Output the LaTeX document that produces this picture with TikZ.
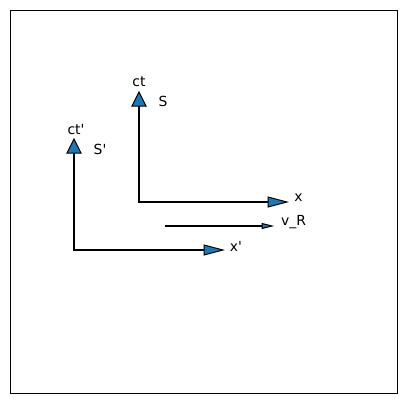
\documentclass[tikz,border=0pt]{standalone}
\usepackage{fontspec}
\setmainfont{DejaVu Sans}[Ligatures=TeXOff]
\usetikzlibrary{calc}
\definecolor{headblue}{RGB}{31,119,180}

\begin{document}
\begin{tikzpicture}[
    x=1pt, y=-1pt,
    axis/.style={line width=1.5pt},
    head/.style={fill=headblue, draw=black, line width=1pt, line join=miter},
    lbl/.style={font=\fontsize{13.9}{16}\selectfont, inner sep=0pt}
  ]
  \useasboundingbox (0,0) rectangle (407,405);

  % frame
  \draw[line width=1pt] (10.5,10.5) rectangle (397,393.5);

  % rest frame S
  \coordinate (oS) at (139,202);
  \coordinate (ctS) at (139,106);
  \coordinate (xS) at (268,202);
  \draw[axis] (ctS) -- (oS) -- (xS);
  \draw[head] (ctS) ++(-7,0) -- ++(7,-14) -- ++(7,14) -- cycle;
  \draw[head] (xS) ++(0,-5) -- ++(19,5) -- ++(-19,5) -- cycle;
  \node[lbl] (ctSlabel) at (139,82) {ct};
  \node[lbl] (Slabel) at (163,101) {S};
  \node[lbl] (xSlabel) at (298.5,198) {x};

  % moving frame S'
  \coordinate (oP) at (74,250);
  \coordinate (ctP) at (74,153);
  \coordinate (xP) at (204,250);
  \draw[axis] (ctP) -- (oP) -- (xP);
  \draw[head] (ctP) ++(-7,0) -- ++(7,-14) -- ++(7,14) -- cycle;
  \draw[head] (xP) ++(0,-5) -- ++(19,5) -- ++(-19,5) -- cycle;
  \node[lbl] (ctPlabel) at (76,130) {ct'};
  \node[lbl] (Plabel) at (100,149) {S'};
  \node[lbl] (xPlabel) at (236,246) {x'};

  % relative velocity
  \coordinate (vstart) at (165,226);
  \coordinate (vend) at (262,226);
  \draw[axis] (vstart) -- (vend);
  \draw[head] (vend) ++(0,-2.5) -- ++(10,2.5) -- ++(-10,2.5) -- cycle;
  \node[lbl] (vlabel) at (293.5,222) {v\_R};
\end{tikzpicture}
\end{document}
